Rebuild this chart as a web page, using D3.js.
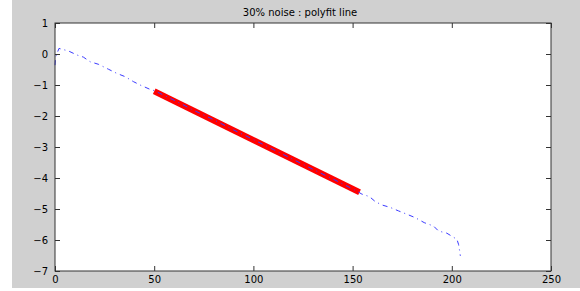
<!DOCTYPE html>
<html>
<head>
<meta charset="utf-8">
<script src="https://cdn.jsdelivr.net/npm/d3@7"></script>
<style>
body{margin:0;background:#fff;}
svg text{font-family:"DejaVu Sans",sans-serif;font-size:10px;fill:#000;}
</style>
</head>
<body>
<svg id="chart" width="580" height="291"></svg>
<script>
var titleTxt = "30% noise : polyfit line";
var xTicks = [0, 50, 100, 150, 200, 250];
var yTicks = [1, 0, -1, -2, -3, -4, -5, -6, -7];

// noisy signal (blue dash-dot)
var dataX = [0, 0.3, 2, 6.7, 11, 14.3, 17.7, 21.8, 26.9, 31, 35.3, 39.5, 42.9, 47.9, 50, 60, 70, 80, 90, 100, 110, 120, 130, 140, 150, 154.7, 158.5, 161.4, 164.8, 169, 173.1, 177.4, 181.6, 186.1, 190.8, 193.3, 197.5, 202.6, 203.4, 203.9, 204.3];
var dataY = [-0.36, -0.1, 0.18, 0.1, -0.03, -0.1, -0.25, -0.33, -0.49, -0.62, -0.73, -0.89, -1.0, -1.14, -1.18, -1.49, -1.82, -2.12, -2.45, -2.76, -3.08, -3.4, -3.72, -4.03, -4.35, -4.52, -4.6, -4.76, -4.87, -4.95, -5.06, -5.17, -5.28, -5.44, -5.55, -5.71, -5.78, -5.98, -6.14, -6.33, -6.51];

// polyfit line (red)
var fitX = [50, 153.5];
var fitY = [-1.2, -4.46];

var svg = d3.select("#chart");
var boxL = 55, boxT = 23, boxR = 551, boxB = 271;

svg.append("rect").attr("x", 12).attr("y", 0).attr("width", 568).attr("height", 288).attr("fill", "#d0d0d0");
svg.append("rect").attr("x", boxL).attr("y", boxT).attr("width", boxR - boxL).attr("height", boxB - boxT).attr("fill", "#fff");

var scaleX = d3.scaleLinear().domain([0, 250]).range([boxL, boxR]);
var scaleY = d3.scaleLinear().domain([-7, 1]).range([boxB, boxT]);

var pts = dataX.map(function(d, i){ return [d, dataY[i]]; });
var fitPts = fitX.map(function(d, i){ return [d, fitY[i]]; });

var line = d3.line()
	.x(function(d){ return scaleX(d[0]); })
	.y(function(d){ return scaleY(d[1]); });

svg.append("path")
	.attr("d", line(fitPts))
	.attr("fill", "none")
	.attr("stroke", "#ff0000")
	.attr("stroke-width", 6);

svg.append("path")
	.attr("d", line(pts))
	.attr("fill", "none")
	.attr("stroke", "#3a3aff")
	.attr("stroke-width", 1)
	.attr("stroke-dasharray", "5,4,1,4");

// axes, ticks pointing in, like matlab
svg.append("g")
	.attr("transform", "translate(0," + boxB + ")")
	.call(d3.axisBottom(scaleX).tickValues(xTicks).tickSizeInner(-5).tickSizeOuter(0).tickPadding(5))
	.attr("class", "axis");
svg.append("g")
	.attr("transform", "translate(0," + boxT + ")")
	.call(d3.axisTop(scaleX).tickValues(xTicks).tickSizeInner(-5).tickSizeOuter(0).tickFormat(""))
	.attr("class", "axis");
svg.append("g")
	.attr("transform", "translate(" + boxL + ",0)")
	.call(d3.axisLeft(scaleY).tickValues(yTicks).tickSizeInner(-5).tickSizeOuter(0).tickPadding(7).tickFormat(d3.format("d")))
	.attr("class", "axis");
svg.append("g")
	.attr("transform", "translate(" + boxR + ",0)")
	.call(d3.axisRight(scaleY).tickValues(yTicks).tickSizeInner(-5).tickSizeOuter(0).tickFormat(""))
	.attr("class", "axis");

svg.selectAll(".axis .domain").remove();
svg.selectAll(".axis line").attr("stroke", "#333");
svg.selectAll(".axis text").attr("font-size", "11px").attr("font-family", "DejaVu Sans, sans-serif").attr("fill", "#000");

svg.append("rect").attr("x", boxL).attr("y", boxT).attr("width", boxR - boxL).attr("height", boxB - boxT)
	.attr("fill", "none").attr("stroke", "#333").attr("stroke-width", 1);

svg.append("text")
	.attr("x", (boxL + boxR) / 2 - 3)
	.attr("y", 16)
	.attr("text-anchor", "middle")
	.attr("font-size", "10.5px")
	.text(titleTxt);
</script>
</body>
</html>
